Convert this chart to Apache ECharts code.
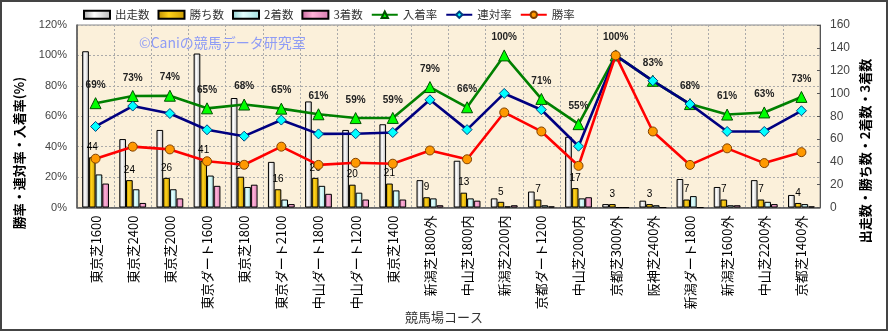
<!DOCTYPE html>
<html><head><meta charset="utf-8">
<script src="https://cdn.jsdelivr.net/npm/echarts@6/dist/echarts.min.js"></script>
<style>html,body{margin:0;padding:0;background:#fff}#c{width:889px;height:332px}</style>
</head><body><div id="c"></div>
<script>
const categories = ['東京芝1600','東京芝2400','東京芝2000','東京ダート1600','東京芝1800','東京ダート2100','中山ダート1800','中山ダート1200','東京芝1400','新潟芝1800外','中山芝1800内','新潟芝2200内','京都ダート1200','中山芝2000内','京都芝3000外','阪神芝2400外','新潟ダート1800','新潟芝1600外','中山芝2200外','京都芝1400外'];
const runs    = [137,60,68,135,96,40,93,68,73,24,41,8,14,62,3,6,25,18,24,11];
const wins    = [44,24,26,41,27,16,26,20,21,9,13,5,7,17,3,3,7,7,7,4];
const seconds = [29,16,16,28,18,7,19,13,15,8,8,1,2,8,0,2,10,2,5,3];
const thirds  = [21,4,8,19,20,3,12,7,7,2,6,2,1,9,0,0,0,2,3,1];
const placeRate  = [68.6,73.3,73.5,65.2,67.7,65.0,61.3,58.8,58.9,79.2,65.9,100,71.4,54.8,100,83.3,68.0,61.1,62.5,72.7];
const rentaiRate = [53.3,66.7,61.8,51.1,46.9,57.5,48.4,48.5,49.3,70.8,51.2,75.0,64.3,40.3,100,83.3,68.0,50.0,50.0,63.6];
const winRate    = [32.1,40.0,38.2,30.4,28.1,40.0,28.0,29.4,28.8,37.5,31.7,62.5,50.0,27.4,100,50.0,28.0,38.9,29.2,36.4];
const seriesNames = ['出走数','勝ち数','2着数','3着数','入着率','連対率','勝率'];

const JP = '"Noto Sans CJK JP", "Noto Sans", sans-serif';
function grad(a, b, c) {
  return new echarts.graphic.LinearGradient(0, 0, 1, 0, [
    {offset: 0, color: a}, {offset: 0.4, color: b}, {offset: 1, color: c}
  ]);
}
const barFills = [
  grad('#a8a8a8', '#ffffff', '#b8b8b8'),
  grad('#b88a00', '#ffd21a', '#c99a00'),
  grad('#8fcfcf', '#e4ffff', '#a2dede'),
  grad('#c8679e', '#ffb2d8', '#d67bb0')
];
const barData = [runs, wins, seconds, thirds];
const bars = barData.map((d, i) => ({
  name: seriesNames[i], type: 'bar', yAxisIndex: 1, data: d,
  barWidth: 6.7, barGap: '0%',
  itemStyle: {color: barFills[i], borderColor: '#000', borderWidth: 1},
  label: i === 1 ? {show: true, position: 'top', distance: 5, color: '#000',
    fontSize: 10, fontFamily: '"Liberation Sans", sans-serif'} : {show: false},
  z: 2
}));
const lineDefs = [
  {d: placeRate, color: '#008000', sym: 'triangle', size: 11, fill: '#00ff00', border: '#005000'},
  {d: rentaiRate, color: '#000080', sym: 'diamond', size: 10, fill: '#00ffff', border: '#004080'},
  {d: winRate, color: '#ff0000', sym: 'circle', size: 9, fill: '#ff9900', border: '#804000'}
];
const lines = lineDefs.map((l, i) => ({
  name: seriesNames[4 + i], type: 'line', yAxisIndex: 0, data: l.d,
  symbol: l.sym, symbolSize: l.size, showAllSymbol: true,
  lineStyle: {color: l.color, width: 2.6},
  itemStyle: {color: l.fill, borderColor: l.border, borderWidth: 1},
  label: i === 0 ? {show: true, position: 'top', distance: 7, color: '#222',
    fontSize: 10, fontWeight: 'bold', fontFamily: '"Liberation Sans", sans-serif',
    formatter: p => Math.round(p.value) + '%'} : {show: false},
  z: 3 + i
}));

const legendData = seriesNames.map((n, i) => i < 4 ? {name: n, icon: 'rect'} : {name: n});

const chart = echarts.init(document.getElementById('c'));
chart.setOption({
  animation: false,
  backgroundColor: '#fff',
  legend: {
    left: 83, top: 9, padding: 0, itemWidth: 26, itemHeight: 8, itemGap: 8,
    textStyle: {fontSize: 11.5, color: '#333', fontFamily: JP},
    data: legendData
  },
  grid: {left: 77, right: 69, top: 25, bottom: 124.5, show: true,
    backgroundColor: '#fbf0da', borderColor: '#888', borderWidth: 1},
  xAxis: {
    type: 'category', data: categories, boundaryGap: true,
    axisLine: {lineStyle: {color: '#555', width: 1.5}},
    axisTick: {show: false},
    axisLabel: {rotate: 90, fontSize: 13, color: '#000', margin: 8, fontFamily: JP, interval: 0},
    splitLine: {show: true, lineStyle: {color: '#aaa', type: [2, 2]}}
  },
  yAxis: [
    {type: 'value', min: 0, max: 120, interval: 20,
      axisLine: {show: true, lineStyle: {color: '#555', width: 1.5}},
      axisTick: {show: false},
      axisLabel: {formatter: '{value}%', fontSize: 11, color: '#444', margin: 10,
        fontFamily: '"Liberation Sans", sans-serif'},
      splitLine: {show: true, lineStyle: {color: '#aaa', type: [2, 2]}}},
    {type: 'value', min: 0, max: 160, interval: 20, position: 'right',
      axisLine: {show: true, lineStyle: {color: '#555', width: 1}},
      axisTick: {show: true, inside: true, length: 3, lineStyle: {color: '#555'}},
      axisLabel: {fontSize: 12, color: '#444', margin: 10,
        fontFamily: '"Liberation Sans", sans-serif'},
      splitLine: {show: false}}
  ],
  graphic: [
    {type: 'rect', shape: {x: 1, y: 1, width: 886, height: 329}, silent: true,
      style: {fill: 'none', stroke: '#444', lineWidth: 2}},
    {type: 'text', x: 139, y: 43, silent: true, z: 1,
      style: {text: '©Caniの競馬データ研究室', fill: '#8f9cf5', font: '14px ' + JP, verticalAlign: 'middle'}},
    {type: 'text', x: 19, y: 153, rotation: Math.PI / 2, silent: true,
      style: {text: '勝率・連対率・入着率(%)', fill: '#000', font: 'bold 13px ' + JP, align: 'center', verticalAlign: 'middle'}},
    {type: 'text', x: 865, y: 151, rotation: Math.PI / 2, silent: true,
      style: {text: '出走数・勝ち数・2着数・3着数', fill: '#000', font: 'bold 13px ' + JP, align: 'center', verticalAlign: 'middle'}},
    {type: 'text', x: 444, y: 317, silent: true,
      style: {text: '競馬場コース', fill: '#333', font: '13px ' + JP, align: 'center', verticalAlign: 'middle'}}
  ],
  series: bars.concat(lines)
});
</script></body></html>
